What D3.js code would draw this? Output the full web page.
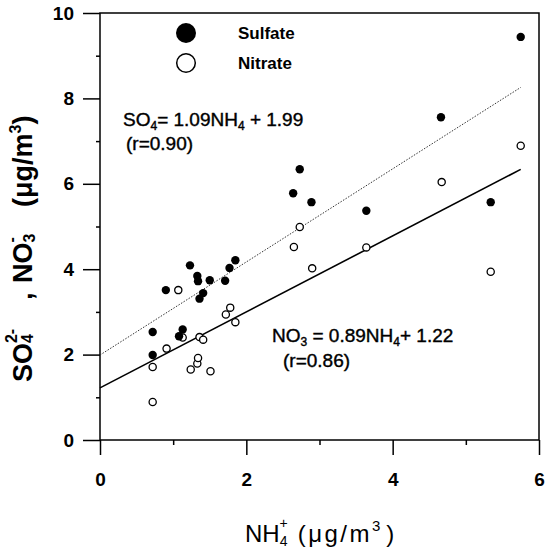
<!DOCTYPE html>
<html>
<head>
<meta charset="utf-8">
<script src="https://cdn.jsdelivr.net/npm/d3@7"></script>
<style>
  body { margin: 0; background: #fff; }
  text { font-family: "Liberation Sans", Arial, sans-serif; fill: #000; }
</style>
</head>
<body>
<script>
// data
var sulfateX = [0.72, 0.72, 0.90, 1.08, 1.13, 1.23, 1.33, 1.34, 1.36, 1.41, 1.50, 1.71, 1.77, 1.85, 2.64, 2.73, 2.89, 3.64, 4.66, 5.34, 5.75];
var sulfateY = [2.53, 1.99, 3.51, 2.43, 2.59, 4.09, 3.84, 3.72, 3.31, 3.44, 3.74, 3.73, 4.03, 4.21, 5.78, 6.34, 5.57, 5.37, 7.56, 5.57, 9.44];
var nitrateX = [0.72, 0.72, 0.91, 1.07, 1.13, 1.24, 1.33, 1.34, 1.36, 1.41, 1.51, 1.72, 1.78, 1.85, 2.65, 2.73, 2.90, 3.64, 4.67, 5.34, 5.75];
var nitrateY = [1.71, 0.89, 2.14, 3.51, 2.40, 1.65, 1.79, 1.92, 2.41, 2.35, 1.61, 2.94, 3.10, 2.76, 4.52, 4.99, 4.02, 4.51, 6.04, 3.94, 6.89];

// regression lines: [slope, intercept]
var sulfateFit = [1.09, 1.99];
var nitrateFit = [0.89, 1.22];
var fitRange = [0, 5.75];

var xMajor = [0, 2, 4, 6];
var xMinor = [1, 3, 5];
var yMajor = [0, 2, 4, 6, 8, 10];
var yMinor = [1, 3, 5, 7, 9];

var svgWidth = 546;
var svgHeight = 548;

var svg = d3.select("body")
    .append("svg")
    .attr("width", svgWidth)
    .attr("height", svgHeight);

var x = d3.scaleLinear().domain([0, 6]).range([100, 539]);
var y = d3.scaleLinear().domain([0, 10]).range([440, 13]);

// axes
var leftMajor = d3.axisLeft(y).tickValues(yMajor).tickSize(17).tickPadding(9).tickFormat(d3.format("d"));
var leftMinor = d3.axisLeft(y).tickValues(yMinor).tickSize(4).tickFormat("");
var bottomMajor = d3.axisBottom(x).tickValues(xMajor).tickSize(15).tickPadding(18).tickFormat(d3.format("d"));
var bottomMinor = d3.axisBottom(x).tickValues(xMinor).tickSize(5).tickFormat("");

function styleAxis(g) {
    g.select(".domain").remove();
    g.selectAll("line").attr("stroke", "#000").attr("stroke-width", 1.5);
    g.selectAll("text")
        .style("font-family", '"Liberation Sans", Arial, sans-serif')
        .style("font-size", "19px")
        .style("font-weight", "bold")
        .attr("fill", "#000");
}

svg.append("g").attr("transform", "translate(" + x(0) + ",0)").call(leftMajor).call(styleAxis);
svg.append("g").attr("transform", "translate(" + x(0) + ",0)").call(leftMinor).call(styleAxis);
svg.append("g").attr("transform", "translate(0," + y(0) + ")").call(bottomMajor).call(styleAxis);
svg.append("g").attr("transform", "translate(0," + y(0) + ")").call(bottomMinor).call(styleAxis);

// frame
svg.append("rect")
    .attr("x", x(0))
    .attr("y", y(10))
    .attr("width", x(6) - x(0))
    .attr("height", y(0) - y(10))
    .attr("fill", "none")
    .attr("stroke", "#000")
    .attr("stroke-width", 1.5);

// regression lines
function fitLine(fit) {
    return fitRange.map(function (v) { return [x(v), y(fit[0] * v + fit[1])]; });
}
var line = d3.line();

svg.append("path")
    .attr("d", line(fitLine(sulfateFit)))
    .attr("fill", "none")
    .attr("stroke", "#333")
    .attr("stroke-width", 1)
    .attr("stroke-dasharray", "1.5,1.5");

svg.append("path")
    .attr("d", line(fitLine(nitrateFit)))
    .attr("fill", "none")
    .attr("stroke", "#000")
    .attr("stroke-width", 1.6);

// points
svg.append("g").selectAll("circle")
    .data(d3.zip(nitrateX, nitrateY))
    .enter()
    .append("circle")
    .attr("cx", d => x(d[0]))
    .attr("cy", d => y(d[1]))
    .attr("r", 3.6)
    .attr("fill", "#fff")
    .attr("stroke", "#000")
    .attr("stroke-width", 1.3);

svg.append("g").selectAll("circle")
    .data(d3.zip(sulfateX, sulfateY))
    .enter()
    .append("circle")
    .attr("cx", d => x(d[0]))
    .attr("cy", d => y(d[1]))
    .attr("r", 4.2)
    .attr("fill", "#000");

// legend
svg.append("circle").attr("cx", 186).attr("cy", 33).attr("r", 10).attr("fill", "#000");
svg.append("circle").attr("cx", 186).attr("cy", 63).attr("r", 9.3)
    .attr("fill", "#fff").attr("stroke", "#000").attr("stroke-width", 1.5);
svg.append("text").attr("x", 238).attr("y", 39).style("font-size", "17px").style("font-weight", "bold").text("Sulfate");
svg.append("text").attr("x", 238).attr("y", 69).style("font-size", "17px").style("font-weight", "bold").text("Nitrate");

// equations
function eqText(px, py) {
    return svg.append("text").attr("x", px).attr("y", py)
        .style("font-size", "19px")
        .attr("stroke", "#000").attr("stroke-width", 0.4);
}
var eq1 = eqText(123, 126);
eq1.append("tspan").text("SO");
eq1.append("tspan").attr("dy", 4).style("font-size", "12px").text("4");
eq1.append("tspan").attr("dy", -4).text("= 1.09NH");
eq1.append("tspan").attr("dy", 4).style("font-size", "12px").text("4");
eq1.append("tspan").attr("dy", -4).text(" + 1.99");
eqText(126, 150).text("(r=0.90)");

var eq2 = eqText(272, 342);
eq2.append("tspan").text("NO");
eq2.append("tspan").attr("dy", 4).style("font-size", "12px").text("3");
eq2.append("tspan").attr("dy", -4).text(" = 0.89NH");
eq2.append("tspan").attr("dy", 4).style("font-size", "12px").text("4");
eq2.append("tspan").attr("dy", -4).text("+ 1.22");
eqText(283, 367).text("(r=0.86)");

// x axis title
var xt = svg.append("text").attr("x", 245).attr("y", 542).style("font-size", "24px");
xt.append("tspan").text("NH");
xt.append("tspan").attr("dy", 4).style("font-size", "14px").text("4");
xt.append("tspan").attr("dx", -8).attr("dy", -18).style("font-size", "14px").text("+");
xt.append("tspan").attr("dx", 10).attr("dy", 14).style("letter-spacing", "2.5px").text("(\u03bcg/m");
xt.append("tspan").attr("dy", -11).style("font-size", "15px").text("3");
xt.append("tspan").attr("dx", 6).attr("dy", 11).text(")");

// y axis title (rotated pieces)
function yTitle(pos) {
    return svg.append("text")
        .attr("transform", "translate(32," + pos + ") rotate(-90)")
        .style("font-size", "27px")
        .style("font-weight", "bold");
}
var yt1 = yTitle(382);
yt1.append("tspan").text("SO");
yt1.append("tspan").attr("dy", 1).style("font-size", "16px").text("4");
yt1.append("tspan").attr("dx", -9).attr("dy", -16).style("font-size", "16px").text("2-");
yTitle(300).text(",");
var yt2 = yTitle(283);
yt2.append("tspan").text("NO");
yt2.append("tspan").attr("dy", 3).style("font-size", "16px").text("3");
yt2.append("tspan").attr("dx", -9).attr("dy", -18).style("font-size", "16px").text("-");
var yt3 = yTitle(207);
yt3.append("tspan").text("(\u03bcg/m");
yt3.append("tspan").attr("dy", -11).style("font-size", "16px").text("3");
yt3.append("tspan").attr("dy", 11).text(")");
</script>
</body>
</html>
